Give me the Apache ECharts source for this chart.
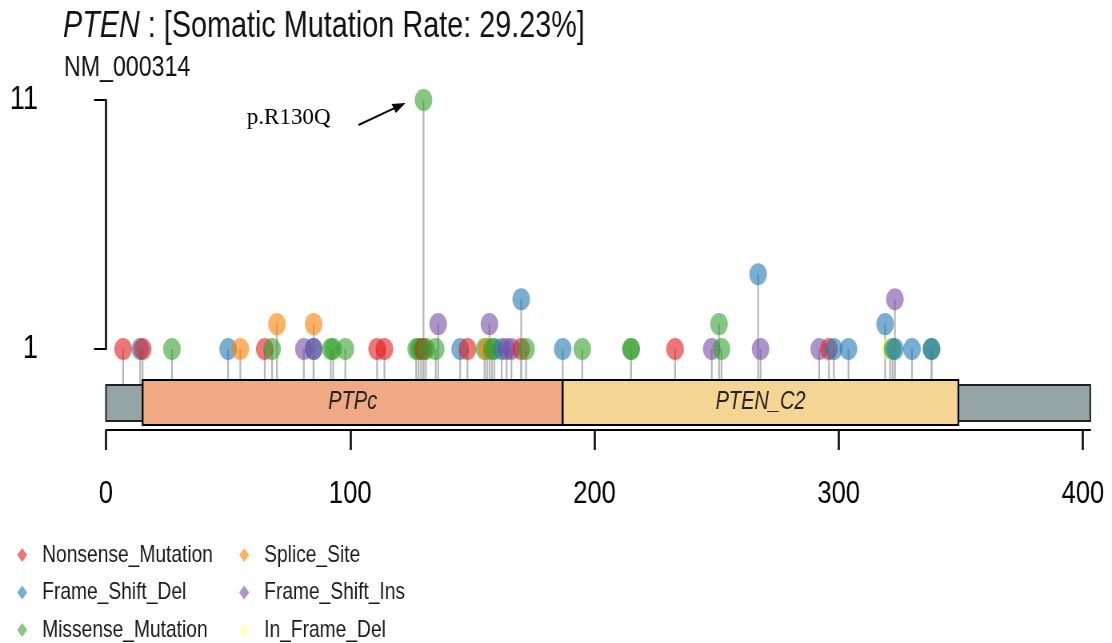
<!DOCTYPE html>
<html>
<head>
<meta charset="utf-8">
<script src="https://cdn.jsdelivr.net/npm/echarts@6/dist/echarts.min.js"></script>
<style>
  html, body { margin: 0; padding: 0; background: #ffffff; overflow: hidden; }
  #wrap { width: 1112px; height: 643px; overflow: hidden; position: relative; }
  /* the figure is drawn on a wider canvas and set in a horizontally condensed frame */
  #chart { width: 1390px; height: 643px; transform: scaleX(0.8); transform-origin: 0 0; }
</style>
</head>
<body>
<div id="wrap"><div id="chart"></div></div>
<script>
// ---- PTEN protein (NM_000314), 403 aa ----
const geneName = 'PTEN';
const transcriptId = 'NM_000314';
const mutationRate = '29.23%';
const proteinLength = 403;

// Pfam domains
const domainNames = ['PTPc', 'PTEN_C2'];
const domainStarts = [15, 187];
const domainEnds = [187, 349];

// Variant classes in legend order
const classNames = ['Nonsense_Mutation', 'Splice_Site', 'Frame_Shift_Del',
                    'Frame_Shift_Ins', 'Missense_Mutation', 'In_Frame_Del'];

// Mutations: amino-acid position, variant class, number of samples
const mutPositions = [7, 14, 15, 27, 50, 55, 65, 68, 70, 81,
                      85, 85, 85, 92, 93, 98, 111, 114, 127, 128,
                      129, 130, 130, 131, 135, 136, 145, 148, 155, 156,
                      157, 158, 159, 162, 164, 166, 170, 170, 172, 187,
                      195, 215, 215, 233, 248, 251, 252, 267, 268, 292,
                      296, 298, 304, 319, 321, 322, 323, 323, 330, 338,
                      338];
const mutClasses = ['Nonsense_Mutation', 'Frame_Shift_Del', 'Nonsense_Mutation', 'Missense_Mutation', 'Frame_Shift_Del',
                    'Splice_Site', 'Nonsense_Mutation', 'Missense_Mutation', 'Splice_Site', 'Frame_Shift_Ins',
                    'Splice_Site', 'Frame_Shift_Del', 'Frame_Shift_Ins', 'Missense_Mutation', 'Missense_Mutation',
                    'Missense_Mutation', 'Nonsense_Mutation', 'Nonsense_Mutation', 'Missense_Mutation', 'Missense_Mutation',
                    'Missense_Mutation', 'Nonsense_Mutation', 'Missense_Mutation', 'Missense_Mutation', 'Missense_Mutation',
                    'Frame_Shift_Ins', 'Frame_Shift_Del', 'Nonsense_Mutation', 'Missense_Mutation', 'Splice_Site',
                    'Frame_Shift_Ins', 'Missense_Mutation', 'Missense_Mutation', 'Frame_Shift_Del', 'Frame_Shift_Ins',
                    'Frame_Shift_Ins', 'Nonsense_Mutation', 'Frame_Shift_Del', 'Missense_Mutation', 'Frame_Shift_Del',
                    'Missense_Mutation', 'Missense_Mutation', 'Missense_Mutation', 'Nonsense_Mutation', 'Frame_Shift_Ins',
                    'Missense_Mutation', 'Missense_Mutation', 'Frame_Shift_Del', 'Frame_Shift_Ins', 'Frame_Shift_Ins',
                    'Nonsense_Mutation', 'Frame_Shift_Del', 'Frame_Shift_Del', 'Frame_Shift_Del', 'In_Frame_Del',
                    'Missense_Mutation', 'Frame_Shift_Ins', 'Frame_Shift_Del', 'Frame_Shift_Del', 'Missense_Mutation',
                    'Frame_Shift_Del'];
const mutCounts = [1, 1, 1, 1, 1, 1, 1, 1, 2, 1,
                   2, 1, 1, 1, 1, 1, 1, 1, 1, 1,
                   1, 1, 11, 1, 1, 2, 1, 1, 1, 1,
                   2, 1, 1, 1, 1, 1, 1, 3, 1, 1,
                   1, 1, 1, 1, 1, 2, 1, 4, 1, 1,
                   1, 1, 1, 2, 1, 1, 3, 1, 1, 1,
                   1];

// Labelled hotspot
const hotspotPositions = [130];
const hotspotLabels = ['p.R130Q'];

// Axis ticks
const yTickValues = [1, 11];
const xTickStep = 100;

// ---- styling ----
const SX = 0.8;                      // horizontal condensing of the frame
const px = v => v / SX;              // screen px -> canvas px (horizontal)
const classColors = {
  'Nonsense_Mutation': 'rgba(227,26,28,0.75)',
  'Splice_Site': 'rgba(255,127,0,0.75)',
  'Frame_Shift_Del': 'rgba(31,120,180,0.75)',
  'Frame_Shift_Ins': 'rgba(120,75,165,0.75)',
  'Missense_Mutation': 'rgba(51,160,44,0.75)',
  'In_Frame_Del': 'rgba(255,255,153,0.75)'
};
const domainColors = ['#F0A985', '#F5D594'];
const backboneColor = '#95A5A5';
const FONT = "'Liberation Sans',Arial,Helvetica,sans-serif";
const SERIF = "'Liberation Serif','Times New Roman',serif";

const plotLeft = px(106);
const plotWidth = px(984.3);

const chart = echarts.init(document.getElementById('chart'), null, { renderer: 'canvas' });

const mutData = mutPositions.map((p, i) => ({
  value: [p, mutCounts[i]],
  itemStyle: { color: classColors[mutClasses[i]] }
}));

const domainData = domainNames.map((n, i) => ({ name: n, value: [domainStarts[i], domainEnds[i]] }));

const legendSeries = classNames.map(n => ({
  name: n,
  type: 'scatter',
  xAxisIndex: 0,
  yAxisIndex: 0,
  data: [],
  itemStyle: { color: classColors[n] }
}));

const diamond = 'path://M6.25,0L12.5,7L6.25,14L0,7Z';
const legendCommon = {
  orient: 'vertical',
  top: 542,
  height: 140,
  padding: 0,
  itemWidth: 40,
  itemHeight: 14,
  itemGap: 11.5,
  icon: diamond,
  selectedMode: false,
  textStyle: { fontFamily: FONT, fontSize: 24, lineHeight: 26, color: '#1a1a1a' }
};

const option = {
  animation: false,
  backgroundColor: '#ffffff',
  title: [
    {
      text: '{i|' + geneName + '} : [Somatic Mutation Rate: ' + mutationRate + ']',
      left: px(63),
      top: 9,
      padding: 0,
      textStyle: {
        fontFamily: FONT, fontSize: 36, fontWeight: 'normal', color: '#111',
        rich: { i: { fontFamily: FONT, fontSize: 36, fontStyle: 'italic', color: '#111' } }
      }
    },
    {
      text: transcriptId,
      left: px(64),
      top: 53,
      padding: 0,
      textStyle: { fontFamily: FONT, fontSize: 29, fontWeight: 'normal', color: '#111' }
    }
  ],
  legend: [
    Object.assign({}, legendCommon, { left: 21.5, data: [classNames[0], classNames[2], classNames[4]] }),
    Object.assign({}, legendCommon, { left: 299, data: [classNames[1], classNames[3], classNames[5]] })
  ],
  grid: [
    { left: plotLeft, width: plotWidth, top: 100, height: 249 },
    { left: plotLeft, width: plotWidth, top: 380, height: 50 }
  ],
  xAxis: [
    { gridIndex: 0, type: 'value', min: 0, max: proteinLength, show: false },
    {
      gridIndex: 1, type: 'value', min: 0, max: proteinLength, interval: xTickStep,
      position: 'bottom',
      axisLine: { show: true, lineStyle: { color: '#000', width: 2 } },
      axisTick: { show: true, length: 20, lineStyle: { color: '#000', width: 2.5 } },
      axisLabel: { margin: 48, fontFamily: FONT, fontSize: 32, color: '#000', showMaxLabel: false },
      splitLine: { show: false }
    }
  ],
  yAxis: [
    {
      gridIndex: 0, type: 'value', min: yTickValues[0], max: yTickValues[1],
      interval: yTickValues[1] - yTickValues[0],
      offset: px(41),
      axisLine: { show: true, lineStyle: { color: '#000', width: 2.5 } },
      axisTick: { show: true, length: px(12), lineStyle: { color: '#000', width: 2 } },
      axisLabel: { margin: px(27), fontFamily: FONT, fontSize: 34, color: '#000' },
      splitLine: { show: false }
    },
    { gridIndex: 1, type: 'value', min: 0, max: 1, show: false }
  ],
  series: [
    // stems
    {
      type: 'custom',
      xAxisIndex: 0, yAxisIndex: 0,
      silent: true,
      z: 1,
      data: mutData.map(d => d.value),
      renderItem: function (params, api) {
        const head = api.coord([api.value(0), api.value(1)]);
        const base = api.coord([api.value(0), 1])[1] + 36;
        return {
          type: 'line',
          shape: { x1: head[0], y1: head[1], x2: head[0], y2: base },
          style: { stroke: '#b7b7b7', lineWidth: 2.2 }
        };
      }
    },
    // protein backbone
    {
      type: 'custom',
      xAxisIndex: 1, yAxisIndex: 1,
      silent: true,
      z: 2,
      data: [[0, proteinLength]],
      renderItem: function (params, api) {
        const a = api.coord([api.value(0), 0.9]);
        const b = api.coord([api.value(1), 0.18]);
        return {
          type: 'rect',
          shape: { x: a[0], y: a[1], width: b[0] - a[0], height: b[1] - a[1] },
          style: { fill: backboneColor, stroke: '#222', lineWidth: 2 }
        };
      }
    },
    // domains
    {
      type: 'custom',
      xAxisIndex: 1, yAxisIndex: 1,
      silent: true,
      z: 3,
      data: domainData,
      renderItem: function (params, api) {
        const a = api.coord([api.value(0), 1.0]);
        const b = api.coord([api.value(1), 0.1]);
        const name = domainNames[params.dataIndex];
        return {
          type: 'group',
          children: [
            {
              type: 'rect',
              shape: { x: a[0], y: a[1], width: b[0] - a[0], height: b[1] - a[1] },
              style: { fill: domainColors[params.dataIndex], stroke: '#000', lineWidth: 2.2 }
            },
            {
              type: 'text',
              style: {
                x: (a[0] + b[0]) / 2, y: (a[1] + b[1]) / 2,
                text: name, align: 'center', verticalAlign: 'middle',
                font: 'italic 25px ' + FONT, fill: '#222'
              }
            }
          ]
        };
      }
    },
    // lollipop heads
    {
      type: 'scatter',
      xAxisIndex: 0, yAxisIndex: 0,
      silent: true,
      z: 4,
      symbol: 'circle',
      symbolSize: [22, 22],
      data: mutData
    }
  ].concat(legendSeries)
};

chart.setOption(option);

// hotspot annotation with arrow (geometry worked out in screen px, then mapped to canvas px)
const graphics = [];
hotspotPositions.forEach((pos, k) => {
  let top = 0;
  mutPositions.forEach((p, i) => { if (p === pos && mutCounts[i] > top) top = mutCounts[i]; });
  const pt = chart.convertToPixel({ xAxisIndex: 0, yAxisIndex: 0 }, [pos, top]);
  const hx = pt[0] * SX, hy = pt[1];
  const sx = hx - 65, sy = hy + 25;
  const tx = hx - 18, ty = hy + 3;
  const dx = tx - sx, dy = ty - sy;
  const len = Math.sqrt(dx * dx + dy * dy);
  const ux = dx / len, uy = dy / len;
  const hl = 13, hw = 5;
  const bx = tx - ux * hl, by = ty - uy * hl;
  graphics.push({
    type: 'line',
    shape: { x1: px(sx), y1: sy, x2: px(bx + ux * 2), y2: by + uy * 2 },
    style: { stroke: '#000', lineWidth: 2 }
  });
  graphics.push({
    type: 'polygon',
    shape: { points: [[px(tx), ty], [px(bx - uy * hw), by + ux * hw], [px(bx + uy * hw), by - ux * hw]] },
    style: { fill: '#000' }
  });
  graphics.push({
    type: 'text',
    x: px(hx - 93), y: hy + 18,
    scaleX: 1 / SX,
    style: {
      x: 0, y: 0,
      text: hotspotLabels[k], align: 'right', verticalAlign: 'middle',
      font: '23px ' + SERIF, fill: '#000'
    }
  });
});
chart.setOption({ graphic: graphics });
</script>
</body>
</html>
